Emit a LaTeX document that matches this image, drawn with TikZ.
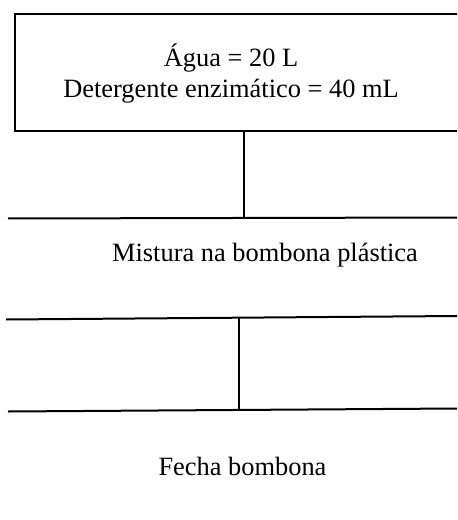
\documentclass[tikz,border=0pt]{standalone}
\usepackage{fontspec}
\setmainfont{Liberation Serif}
\usetikzlibrary{positioning,calc}
\tikzset{
  rule/.style={line width=1.5pt},
  stepbox/.style={draw, rule, minimum width=350pt, minimum height=87.75pt, anchor=north west},
  lab/.style={font=\fontsize{19.8}{23.25}\selectfont, align=center, inner sep=0pt},
}

\begin{document}
\begin{tikzpicture}[x=0.75pt, y=-0.75pt]

\useasboundingbox (0,0) rectangle (457,520);
\clip (0,0) rectangle (457,520);

\node[stepbox] (box) at (14,13) {};
\node[lab, anchor=base] (inputs) at (231,98) {Água = 20 L\\Detergente enzimático = 40 mL};

% first rule and the mixing step
\coordinate (r1w) at (8,218.5);
\coordinate (r1e) at (457,217.5);
\coordinate (j1) at (244,218);
\draw[rule] (r1w) -- (r1e);
\draw[rule] (box.south -| j1) -- (j1);
\node[lab, anchor=base] (mix) at (265,261) {Mistura na bombona plástica};

% second pair of rules
\coordinate (r2w) at (6,319.5);
\coordinate (r2e) at (457,316);
\coordinate (r3w) at (8,411.5);
\coordinate (r3e) at (457,408.5);
\coordinate (j2) at (239,318);
\coordinate (j3) at (239,410);
\draw[rule] (r2w) -- (r2e);
\draw[rule] (r3w) -- (r3e);
\draw[rule] (j2) -- (j3);
\node[lab, anchor=base] (close) at (242.5,475) {Fecha bombona};

\end{tikzpicture}
\end{document}
